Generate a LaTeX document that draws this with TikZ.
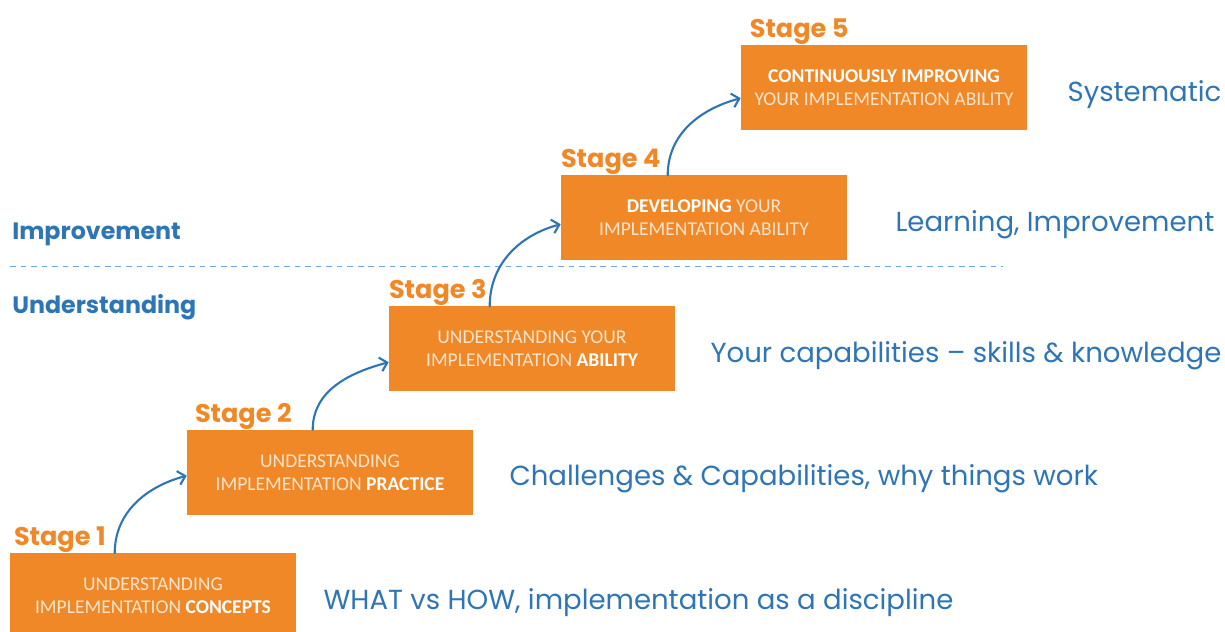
\documentclass[tikz,border=0pt]{standalone}
\usepackage{fontspec}
\newfontfamily\boxfont{Carlito}
\newfontfamily\gothic{Poppins}
\definecolor{stageorange}{RGB}{240, 136, 40}
\definecolor{labelblue}{RGB}{46, 117, 182}
\definecolor{dashblue}{RGB}{110, 165, 230}
\definecolor{boxtext}{RGB}{252, 228, 205}
\newcommand{\kw}[1]{\textcolor{white}{\bfseries #1}}
\usetikzlibrary{arrows.meta, positioning}

\begin{document}
\begin{tikzpicture}[
  stagebox/.style={fill=stageorange, minimum width=7.15cm, minimum height=2.125cm, align=center, inner sep=0pt, text=boxtext, font=\boxfont\fontsize{13.9}{16.6}\selectfont},
  stagelbl/.style={text=stageorange, inner sep=0pt, font=\gothic\bfseries\fontsize{18.2}{21}\selectfont},
  note/.style={text=labelblue, inner sep=0pt, font=\gothic\fontsize{19.6}{24}\selectfont},
  phase/.style={text=labelblue, inner sep=0pt, anchor=west, font=\gothic\bfseries\fontsize{16.9}{20}\selectfont},
  flow/.style={-{Straight Barb[length=5pt, width=10pt]}, line width=1.5pt, labelblue, line cap=round}
]
  \useasboundingbox (0,0) rectangle (30.625,15.8);

  % Phase divider
  \node[phase] (improve) at (0.3, 9.95) {Improvement};
  \node[phase] (underst) at (0.3, 8.125) {Understanding};
  \coordinate (divl) at (0.25, 9.15);
  \coordinate (divr) at (25.075, 9.15);
  \draw[dashblue, line width=0.6pt, dash pattern=on 4pt off 3.5pt] (divl) -- (divr);

  % Stage boxes
  \node[stagebox] (s1) at (3.825, 0.9) {UNDERSTANDING\\IMPLEMENTATION \kw{CONCEPTS}};
  \node[stagebox] (s2) at (8.25, 3.9875) {UNDERSTANDING\\IMPLEMENTATION \kw{PRACTICE}};
  \node[stagebox] (s3) at (13.3, 7.075) {UNDERSTANDING YOUR\\IMPLEMENTATION \kw{ABILITY}};
  \node[stagebox] (s4) at (17.6, 10.35) {\kw{DEVELOPING} YOUR\\IMPLEMENTATION ABILITY};
  \node[stagebox] (s5) at (22.1, 13.6) {\kw{CONTINUOUSLY IMPROVING}\\YOUR IMPLEMENTATION ABILITY};

  % Stage labels
  \node[stagelbl, above right=0cm and 0.1cm of s1.north west] (l1) {Stage 1};
  \node[stagelbl, above right=0cm and 0.2cm of s2.north west] (l2) {Stage 2};
  \node[stagelbl, above right=0cm and 0cm of s3.north west] (l3) {Stage 3};
  \node[stagelbl, above right=0cm and 0cm of s4.north west] (l4) {Stage 4};
  \node[stagelbl, above right=0cm and 0.22cm of s5.north west] (l5) {Stage 5};

  % Notes
  \node[note, right=0.675cm of s1, yshift=-4.6pt] (n1) {WHAT vs HOW, implementation as a discipline};
  \node[note, right=0.9cm of s2, yshift=-4.6pt] (n2) {Challenges \& Capabilities, why things work};
  \node[note, right=0.875cm of s3, yshift=-4.6pt] (n3) {Your capabilities – skills \& knowledge};
  \node[note, right=1.2cm of s4, yshift=-4.6pt] (n4) {Learning, Improvement};
  \node[note, right=1.0cm of s5, yshift=-4.6pt] (n5) {Systematic};

  % Steps up
  \draw[flow] ([xshift=2.625cm]s1.north west) to[out=90, in=195] ([yshift=-1.15cm]s2.north west);
  \draw[flow] ([xshift=3.15cm]s2.north west) to[out=90, in=195] ([yshift=-1.4cm]s3.north west);
  \draw[flow] ([xshift=2.525cm]s3.north west) to[out=90, in=195] ([yshift=-1.225cm]s4.north west);
  \draw[flow] ([xshift=2.675cm]s4.north west) to[out=90, in=195] ([yshift=-1.325cm]s5.north west);
\end{tikzpicture}
\end{document}
